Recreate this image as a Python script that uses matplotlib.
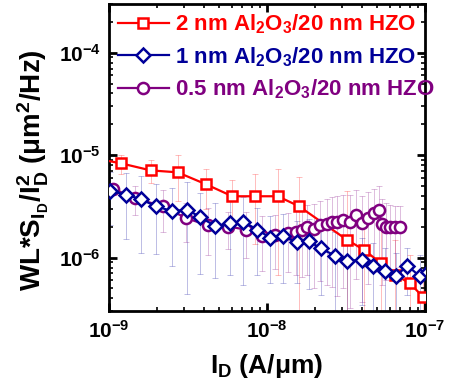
import numpy as np
import matplotlib
matplotlib.use("Agg")
import matplotlib.pyplot as plt

plt.rcParams["font.family"] = ["Liberation Sans", "DejaVu Sans"]
plt.rcParams["font.weight"] = "bold"
plt.rcParams["mathtext.default"] = "regular"

# ---------------------------
# Data
# ---------------------------
id_2nm = [8.5e-10, 1.20e-9, 1.84e-9, 2.72e-9, 4.11e-9, 6.03e-9, 8.39e-9, 1.17e-8,
          1.59e-8, 3.19e-8, 4.11e-8, 5.27e-8, 6.46e-8, 8.04e-8, 9.7e-8]
s_2nm = [9.2e-6, 8.3e-6, 7.1e-6, 6.8e-6, 5.2e-6, 3.97e-6, 3.97e-6, 3.97e-6,
         3.18e-6, 1.50e-6, 1.19e-6, 8.8e-7, 6.8e-7, 5.6e-7, 4.15e-7]
err_2nm = [1.8e-6, 1.7e-6, 1.8e-6, 3.2e-6, 2.2e-6, 1.8e-6, 2.6e-6, 3.3e-6,
           2.9e-6, 3.0e-6, 1.5e-6, 1.0e-6, 0.8e-6, 0.5e-6, 0.3e-6]

id_1nm = [1.01e-9, 1.29e-9, 1.59e-9, 1.98e-9, 2.52e-9, 3.13e-9, 3.77e-9, 4.71e-9,
          5.83e-9, 7.02e-9, 8.69e-9, 1.045e-8, 1.27e-8, 1.54e-8, 1.85e-8, 2.19e-8,
          2.71e-8, 3.22e-8, 3.97e-8, 4.72e-8, 5.62e-8, 6.58e-8, 7.74e-8, 9.29e-8, 1.04e-7]
s_1nm = [4.47e-6, 4.12e-6, 3.71e-6, 3.18e-6, 2.83e-6, 2.94e-6, 2.49e-6, 2.03e-6,
         2.17e-6, 2.24e-6, 1.88e-6, 1.56e-6, 1.61e-6, 1.41e-6, 1.44e-6, 1.23e-6,
         1.04e-6, 9.35e-7, 9.45e-7, 8.26e-7, 7.46e-7, 6.64e-7, 8.35e-7, 6.56e-7, 7.3e-7]
err_1nm = [2.4e-6, 2.6e-6, 2.6e-6, 2.1e-6, 2.0e-6, 2.5e-6, 1.8e-6, 1.4e-6,
           1.5e-6, 1.7e-6, 1.2e-6, 1.0e-6, 1.05e-6, 0.85e-6, 0.95e-6, 0.8e-6,
           0.75e-6, 0.7e-6, 0.6e-6, 0.55e-6, 0.5e-6, 0.45e-6, 0.4e-6, 0.4e-6, 0.4e-6]

id_05nm = [1.055e-9, 1.46e-9, 2.21e-9, 3.07e-9, 4.25e-9, 5.68e-9, 7.33e-9, 9.33e-9,
           1.12e-8, 1.36e-8, 1.53e-8, 1.67e-8, 1.79e-8, 1.98e-8, 2.16e-8, 2.39e-8,
           2.57e-8, 2.76e-8, 3.01e-8, 3.35e-8, 3.66e-8, 3.97e-8, 4.37e-8, 4.75e-8,
           5.14e-8, 5.32e-8, 5.67e-8, 6.00e-8, 6.45e-8, 6.95e-8]
s_05nm = [4.72e-6, 3.79e-6, 3.16e-6, 2.43e-6, 2.06e-6, 2.01e-6, 1.88e-6, 1.64e-6,
          1.68e-6, 1.72e-6, 1.78e-6, 1.84e-6, 1.98e-6, 1.91e-6, 2.09e-6, 2.14e-6,
          2.22e-6, 2.22e-6, 2.31e-6, 2.22e-6, 2.62e-6, 2.17e-6, 2.45e-6, 2.72e-6,
          2.89e-6, 2.14e-6, 2.01e-6, 1.98e-6, 1.98e-6, 2.01e-6]
err_05nm = [0.6e-6, 1.2e-6, 1.4e-6, 1.0e-6, 1.0e-6, 0.8e-6, 0.9e-6, 0.9e-6,
            0.9e-6, 1.0e-6, 1.1e-6, 1.2e-6, 1.3e-6, 1.4e-6, 1.5e-6, 1.6e-6,
            1.7e-6, 1.8e-6, 1.8e-6, 1.9e-6, 2.0e-6, 1.8e-6, 1.9e-6, 2.0e-6,
            2.1e-6, 1.6e-6, 1.4e-6, 1.3e-6, 1.2e-6, 1.2e-6]

labels = ["2 nm Al$_2$O$_3$/20 nm HZO",
          "1 nm Al$_2$O$_3$/20 nm HZO",
          "0.5 nm Al$_2$O$_3$/20 nm HZO"]
colors = ["#ff0000", "#000099", "#800080"]

# ---------------------------
# Plot
# ---------------------------
fig = plt.figure(figsize=(4.54, 3.87), dpi=100)
ax = fig.add_axes([0.240, 0.196, 0.696, 0.794])

series = [
    (id_2nm, s_2nm, err_2nm, "s", 7, 3),
    (id_1nm, s_1nm, err_1nm, "D", 7.5, 5),
    (id_05nm, s_05nm, err_05nm, "o", 8, 4),
]

for (x, y, e, m, ms, z), lab, c in zip(series, labels, colors):
    ax.errorbar(x, y, yerr=e, fmt="none", ecolor=c, elinewidth=0.6,
                capsize=2, capthick=0.6, alpha=0.3, zorder=1)
    ax.plot(x, y, color=c, marker=m, markersize=ms, markerfacecolor="white",
            markeredgecolor=c, markeredgewidth=1.8, linewidth=1.6, label=lab,
            zorder=z)

ax.set_xscale("log")
ax.set_yscale("log")
ax.set_xlim(1e-9, 1e-7)
ax.set_ylim(3e-7, 3e-4)

ax.set_xlabel("I$_D$ (A/$\\mu$m)", fontsize=19, fontweight="bold", labelpad=8)
ax.set_ylabel("WL*S$_{I_D}$/I$_D^2$ ($\\mu$m$^2$/Hz)", fontsize=20,
              fontweight="bold")
ax.yaxis.set_label_coords(-0.185, 0.46)

ax.tick_params(which="both", direction="in", top=True, right=True)
ax.tick_params(which="major", length=6, width=2, labelsize=15, pad=6)
ax.tick_params(which="minor", length=3, width=1.2)
for lbl in ax.get_xticklabels() + ax.get_yticklabels():
    lbl.set_fontweight("bold")
for sp in ax.spines.values():
    sp.set_linewidth(2)

leg = ax.legend(loc="upper left", frameon=False, handlelength=2.3,
                handletextpad=0.25, labelspacing=0.4, borderaxespad=0.3,
                borderpad=0.1, prop={"weight": "bold", "size": 16})
for txt, c in zip(leg.get_texts(), colors):
    txt.set_color(c)

fig.savefig("out.png", dpi=100)
